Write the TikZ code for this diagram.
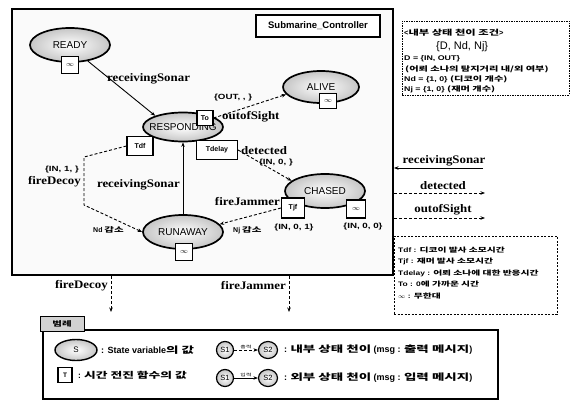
\documentclass[tikz,border=0pt]{standalone}
\usepackage{fontspec}
\setmainfont{Liberation Serif}
\setsansfont{Liberation Sans}
\newfontfamily\evfont{Liberation Serif}[FakeStretch=1.12]
\newfontfamily\wsans{Liberation Sans}[FakeStretch=1.3]
\newfontfamily\krw{Noto Sans CJK KR}[FakeStretch=1.5]
\newcommand\kor[1]{{\krw #1}}
\usetikzlibrary{shapes.geometric,arrows.meta}
\begin{document}
\begin{tikzpicture}[x=1pt,y=-1pt,
  state/.style={ellipse, draw, line width=1.7pt, shade, inner color=white, outer color=gray!45, inner sep=0pt},
  sname/.style={font=\sffamily\fontsize{10}{10}\selectfont, inner sep=0pt},
  tbox/.style={draw, line width=1.1pt, fill=white, font=\sffamily\bfseries\fontsize{7}{7}\selectfont, inner sep=0pt},
  ev/.style={font=\evfont\bfseries\fontsize{11.5}{11.5}\selectfont, inner sep=1pt},
  cond/.style={font=\wsans\bfseries\fontsize{7.5}{7.5}\selectfont, inner sep=1pt},
  krl/.style={font=\sffamily\bfseries\fontsize{7}{7}\selectfont, inner sep=1pt},
  note/.style={font=\wsans\bfseries\fontsize{6.8}{6.8}\selectfont, inner sep=0pt, anchor=west},
  tnotes/.style={note, font=\wsans\bfseries\fontsize{6.5}{6.5}\selectfont},
  legt/.style={font=\sffamily\bfseries\fontsize{9}{9}\selectfont, inner sep=0pt, anchor=west},
  ext/.style={-{Stealth[length=4.5pt,width=3.5pt]}, line width=0.9pt},
  int/.style={ext, dash pattern=on 3pt off 2pt},
]
\useasboundingbox (0,0) rectangle (572,401);
\fill[white] (0,0) rectangle (572,401);

% ---- system frame ----
\node[draw, line width=2pt, fill=gray!4, minimum width=381pt, minimum height=266pt, inner sep=0pt] (sys) at (202.5,142) {};
\node[draw, line width=1.6pt, fill=white, minimum width=124pt, minimum height=22pt, inner sep=0pt,
      font=\sffamily\bfseries\fontsize{9.5}{9.5}\selectfont] (title) at (318,26) {Submarine\_Controller};

% ---- states ----
\node[state, minimum width=80pt, minimum height=34pt, label={[sname]center:READY}] (ready) at (70,45) {};
\node[tbox, minimum width=17pt, minimum height=17pt] (readyT) at (70,65) {$\infty$};

\node[state, minimum width=76pt, minimum height=32pt, label={[sname]center:ALIVE}] (alive) at (321,87) {};
\node[tbox, minimum width=17pt, minimum height=15pt] (aliveT) at (328,101) {$\infty$};

\node[state, minimum width=80pt, minimum height=29pt, label={[sname]center:RESPONDING}] (resp) at (183,127) {};
\node[tbox, minimum width=16pt, minimum height=15pt] (to) at (205,118) {To};
\node[tbox, minimum width=26pt, minimum height=19pt] (tdf) at (140,146) {Tdf};
\node[tbox, minimum width=41pt, minimum height=19pt] (tdelay) at (217,150) {Tdelay};

\node[state, minimum width=80pt, minimum height=34pt, label={[sname]center:CHASED}] (chased) at (325,191) {};
\node[tbox, minimum width=23pt, minimum height=20pt] (tjf) at (293,208) {Tjf};
\node[tbox, minimum width=19pt, minimum height=18pt] (chasedT) at (356,209) {$\infty$};

\node[state, minimum width=80pt, minimum height=34pt, label={[sname]center:RUNAWAY}] (run) at (183,232) {};
\node[tbox, minimum width=17pt, minimum height=17pt] (runT) at (184,252) {$\infty$};

% ---- transitions ----
\draw[ext] (ready.-42) -- (resp.158);
\node[ev, anchor=west] (l1) at (106,79) {receivingSonar};

\draw[int] (to.east) -- (alive.192);
\node[cond, anchor=west] (l2) at (213,98) {\{OUT, , \}};
\node[ev, anchor=west] (l3) at (221,117) {outofSight};

\draw[int] (tdelay.east) -- (chased.163);
\node[ev, anchor=west] (l4) at (240,151) {detected};
\node[cond, anchor=west] (l5) at (258,163) {\{IN, 0, \}};

\draw[ext] (run.north) -- (resp.south);
\node[ev, anchor=east] (l6) at (181,185) {receivingSonar};

\coordinate (fdA) at (84,157);
\coordinate (fdB) at (84,205);
\draw[int] (tdf.west) -- (fdA) -- (fdB) -- (run.west);
\node[cond, anchor=east] (l7) at (80,170) {\{IN, 1, \}};
\node[ev, anchor=east] (l8) at (82,182) {fireDecoy};
\node[krl, anchor=west] (l9) at (92,230) {Nd \kor{감소}};

\draw[int] (tjf.west) -- (run.12);
\node[ev, anchor=east] (l10) at (281,202) {fireJammer};
\node[krl, anchor=west] (l11) at (232,230) {Nj \kor{감소}};
\node[cond] (l12) at (294,228) {\{IN, 0, 1\}};
\node[cond] (l13) at (363,227) {\{IN, 0, 0\}};

% ---- ports ----
\coordinate (pRS) at (483,168);
\draw[ext] (pRS) -- (sys.east |- pRS);
\node[ev, anchor=south] (p1) at (444,167) {receivingSonar};
\coordinate (pDet) at (485,193);
\draw[int] (sys.east |- pDet) -- (pDet);
\node[ev, anchor=south] (p2) at (443,191) {detected};
\coordinate (pOut) at (485,218);
\draw[int] (sys.east |- pOut) -- (pOut);
\node[ev, anchor=south] (p3) at (443,216) {outofSight};

\coordinate (pDec) at (111,312);
\draw[int] (sys.south -| pDec) -- (pDec);
\node[ev, anchor=east] (p4) at (109,286) {fireDecoy};
\coordinate (pJam) at (289,312);
\draw[int] (sys.south -| pJam) -- (pJam);
\node[ev, anchor=east] (p5) at (287,286) {fireJammer};

% ---- transition conditions ----
\node[draw, dash pattern=on 1.5pt off 1pt, line width=0.6pt, minimum width=167pt, minimum height=74pt, inner sep=0pt] (cbox) at (485.5,58) {};
\node[note, font=\sffamily\bfseries\fontsize{7.5}{7.5}\selectfont] (c1) at (404,33) {<\kor{내부 상태 천이 조건}>};
\node[note, font=\sffamily\fontsize{11}{11}\selectfont] (c2) at (436,47) {\{D, Nd, Nj\}};
\node[note] (c3) at (404,59) {D = \{IN, OUT\}};
\node[note] (c4) at (405,69) {\kor{(어뢰 소나의 탐지거리 내/외 여부)}};
\node[note] (c5) at (404,79.5) {Nd = \{1, 0\} \kor{(디코이 개수)}};
\node[note] (c6) at (404,89.5) {Nj = \{1, 0\} \kor{(재머 개수)}};

% ---- time advance notes ----
\node[draw, dash pattern=on 2pt off 1.5pt, line width=0.7pt, minimum width=163pt, minimum height=78pt, inner sep=0pt] (tnote) at (475.5,275) {};
\node[tnotes] (t1) at (398,250) {Tdf : \kor{디코이 발사 소모시간}};
\node[tnotes] (t2) at (398,261.5) {Tjf : \kor{재머 발사 소모시간}};
\node[tnotes] (t3) at (398,273) {Tdelay : \kor{어뢰 소나에 대한 반응시간}};
\node[tnotes] (t4) at (398,284.5) {To : 0\kor{에 가까운 시간}};
\node[tnotes] (t5) at (398,296) {$\infty$ : \kor{무한대}};

% ---- legend ----
\node[draw, line width=1.2pt, minimum width=455pt, minimum height=69pt, inner sep=0pt] (leg) at (270.5,364.5) {};
\node[draw, line width=0.8pt, fill=gray!35, minimum width=44pt, minimum height=15pt, inner sep=0pt,
      font=\sffamily\bfseries\fontsize{7}{7}\selectfont] (legtab) at (62,323.5) {\kor{범례}};
\node[state, line width=1.4pt, minimum width=42pt, minimum height=21pt, label={[sname, font=\sffamily\fontsize{8}{8}\selectfont]center:S}] (lgS) at (76,350) {};
\node[legt] (lgSt) at (101,350) {: State variable\kor{의 값}};
\node[tbox, minimum width=14pt, minimum height=15pt, font=\sffamily\bfseries\fontsize{6.5}{6.5}\selectfont] (lgT) at (65,375) {T};
\node[legt, font=\sffamily\bfseries\fontsize{8.5}{8.5}\selectfont] (lgTt) at (78,375) {: \kor{시간 전진 함수의 값}};

\node[state, line width=1.2pt, minimum width=17pt, minimum height=17pt, label={[sname, font=\sffamily\fontsize{7.5}{7.5}\selectfont]center:S1}] (a1) at (225,350) {};
\node[state, line width=1.2pt, minimum width=19pt, minimum height=17pt, label={[sname, font=\sffamily\fontsize{7.5}{7.5}\selectfont]center:S2}] (a2) at (268,350) {};
\draw[int, line width=0.7pt] (a1.east) -- node[above, font=\sffamily\fontsize{4}{4}\selectfont, inner sep=1pt] {\kor{출력}} (a2.west);
\node[legt] (at) at (284,350) {: \kor{내부 상태 천이} (msg : \kor{출력 메시지})};

\node[state, line width=1.2pt, minimum width=17pt, minimum height=17pt, label={[sname, font=\sffamily\fontsize{7.5}{7.5}\selectfont]center:S1}] (b1) at (225,378) {};
\node[state, line width=1.2pt, minimum width=19pt, minimum height=17pt, label={[sname, font=\sffamily\fontsize{7.5}{7.5}\selectfont]center:S2}] (b2) at (268,378) {};
\draw[ext, line width=0.7pt] (b1.east) -- node[above, font=\sffamily\fontsize{4}{4}\selectfont, inner sep=1pt] {\kor{입력}} (b2.west);
\node[legt] (bt) at (284,378) {: \kor{외부 상태 천이} (msg : \kor{입력 메시지})};
\end{tikzpicture}
\end{document}
